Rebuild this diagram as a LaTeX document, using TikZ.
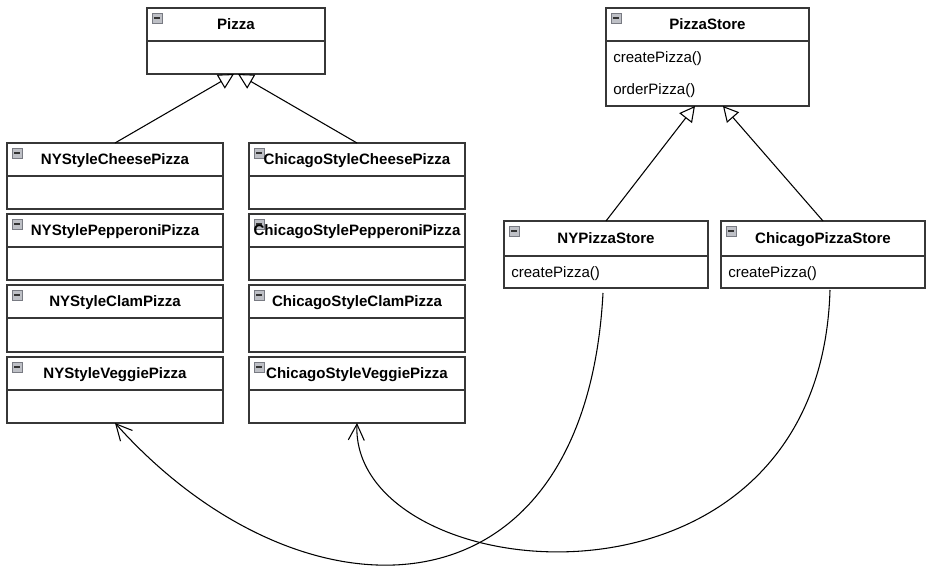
\documentclass[tikz,border=0pt]{standalone}
\usepackage{fontspec}
\setmainfont{Liberation Sans}
\usetikzlibrary{arrows.meta,calc}
\definecolor{boxgray}{RGB}{55,55,55}
\definecolor{iconfill}{RGB}{190,192,198}
\definecolor{iconedge}{RGB}{120,122,130}
\tikzset{
  umlbox/.style={draw=boxgray, line width=1.3pt, fill=white, inner sep=0pt, outer sep=0pt, rectangle},
  divline/.style={draw=boxgray, line width=1.3pt},
  titletext/.style={inner sep=0pt, anchor=base, font=\bfseries\fontsize{11.3}{13}\selectfont},
  methodtext/.style={inner sep=0pt, anchor=base west, font=\fontsize{11.3}{13}\selectfont},
  iconbox/.style={draw=iconedge, fill=iconfill, line width=0.6pt},
  iconbar/.style={draw=black!80, line width=0.9pt},
  inherit/.style={draw=black, line width=0.8pt, -{Triangle[open, length=11.5pt, width=12pt, fill=white]}},
  depend/.style={draw=black, line width=0.8pt, -{Straight Barb[length=12pt, width=12pt]}}
}
\newcommand{\classbox}[7]{%
  \pgfmathsetmacro{\cbw}{(#4-#2)*0.75}%
  \pgfmathsetmacro{\cbh}{(#5-#3)*0.75}%
  \node[umlbox, minimum width=\cbw pt, minimum height=\cbh pt, anchor=north west] (#1) at (#2,#3) {};
  \draw[divline] (#2,#6) -- (#4,#6);
  \draw[iconbox] (#2+5,#3+5) rectangle ++(10,10);
  \draw[iconbar] (#2+7,#3+10) -- ++(6,0);
  \node[titletext] (#1-title) at ({(#2+#4)/2},{(#3+#6)/2+5.4}) {#7};
}
\begin{document}
\begin{tikzpicture}[x=0.75pt,y=-0.75pt]
\useasboundingbox[fill=white] (0,0) rectangle (932,573);

\classbox{pizza}{147}{8}{325}{74}{41}{Pizza}
\classbox{store}{606}{8}{809}{106}{41}{PizzaStore}
\node[methodtext] (store-m1) at (613,63) {createPizza()};
\node[methodtext] (store-m2) at (613,95) {orderPizza()};

\classbox{nycheese}{7}{143}{223}{209}{176}{NYStyleCheesePizza}
\classbox{nypep}{7}{214}{223}{280}{247}{NYStylePepperoniPizza}
\classbox{nyclam}{7}{285}{223}{352}{318}{NYStyleClamPizza}
\classbox{nyveg}{7}{357}{223}{423}{390}{NYStyleVeggiePizza}

\classbox{chcheese}{249}{143}{465}{209}{176}{ChicagoStyleCheesePizza}
\classbox{chpep}{249}{214}{465}{280}{247}{ChicagoStylePepperoniPizza}
\classbox{chclam}{249}{285}{465}{352}{318}{ChicagoStyleClamPizza}
\classbox{chveg}{249}{357}{465}{423}{390}{ChicagoStyleVeggiePizza}

\classbox{nystore}{504}{221}{708}{288}{256}{NYPizzaStore}
\node[methodtext] (nystore-m1) at (511,277.5) {createPizza()};
\classbox{chstore}{721}{221}{925}{288}{256}{ChicagoPizzaStore}
\node[methodtext] (chstore-m1) at (728,277.5) {createPizza()};

% inheritance
\draw[inherit] (nycheese.north) -- ([xshift=-1.5pt]pizza.south);
\draw[inherit] (chcheese.north) -- ([xshift=1.5pt]pizza.south);
\draw[inherit] (nystore.north) -- ([xshift=-9.4pt]store.south);
\draw[inherit] (chstore.north) -- ([xshift=11.6pt]store.south);

% dependencies
\coordinate (nys) at ($(nystore.south)+(-3,5)$);
\coordinate (chs) at ($(chstore.south)+(7,2)$);
\draw[depend] (nys) .. controls (585,630) and (300,630) .. (nyveg.south);
\draw[depend] (chs) .. controls (820,640) and (350,590) .. (chveg.south);
\end{tikzpicture}
\end{document}
